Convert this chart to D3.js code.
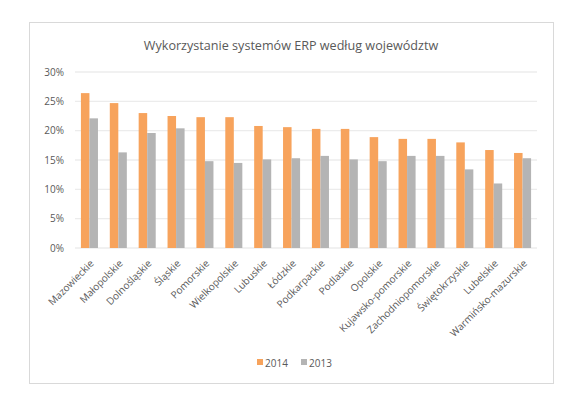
<!DOCTYPE html>
<html>
<head>
<meta charset="utf-8">
<script src="https://cdn.jsdelivr.net/npm/d3@7"></script>
<style>
  body { margin: 0; background: #fff; }
  text { font-family: "Open Sans", sans-serif; fill: #595959; }
</style>
</head>
<body>
<div id="chart"></div>
<script>
var regions = ["Mazowieckie", "Małopolskie", "Dolnośląskie", "Śląskie", "Pomorskie", "Wielkopolskie",
  "Lubuskie", "Łódzkie", "Podkarpackie", "Podlaskie", "Opolskie", "Kujawsko-pomorskie",
  "Zachodniopomorskie", "Świętokrzyskie", "Lubelskie", "Warmińsko-mazurskie"];
var v2014 = [26.4, 24.7, 23.0, 22.5, 22.3, 22.3, 20.8, 20.6, 20.3, 20.3, 18.9, 18.6, 18.6, 18.0, 16.7, 16.2];
var v2013 = [22.1, 16.3, 19.6, 20.4, 14.8, 14.5, 15.1, 15.3, 15.7, 15.1, 14.8, 15.7, 15.7, 13.4, 11.0, 15.3];
var yTicks = [0, 5, 10, 15, 20, 25, 30];
var seriesNames = ["2014", "2013"];
var colors = ["#f7a35c", "#b4b4b4"];

// set the dimensions and margins of the graph
var W = 581, H = 395;
var margin = {top: 72, right: 44, bottom: 147, left: 75},
    width = W - margin.left - margin.right,
    height = H - margin.top - margin.bottom;

var root = d3.select("#chart")
    .append("svg")
    .attr("width", W)
    .attr("height", H);

// chart frame
root.append("rect")
    .attr("x", 29.5).attr("y", 22.5)
    .attr("width", 524).attr("height", 361)
    .attr("fill", "#fff")
    .attr("stroke", "#d9d9d9");

root.append("text")
    .attr("x", 291).attr("y", 50)
    .attr("text-anchor", "middle")
    .style("font-size", "12.6px")
    .text("Wykorzystanie systemów ERP według województw");

var svg = root.append("g")
    .attr("transform", "translate(" + margin.left + "," + margin.top + ")");

var x = d3.scaleBand()
    .domain(regions)
    .range([0, width])
    .paddingInner(0.41)
    .paddingOuter(0.205);

var x1 = d3.scaleBand()
    .domain(seriesNames)
    .range([0, x.bandwidth()]);

var y = d3.scaleLinear()
    .domain([0, 30])
    .range([height, 0]);

// gridlines
svg.append("g")
    .selectAll("line")
    .data(yTicks)
    .enter()
    .append("line")
    .attr("x1", 0).attr("x2", width)
    .attr("y1", function(d) { return y(d); })
    .attr("y2", function(d) { return y(d); })
    .attr("stroke", "#ececec")
    .attr("stroke-width", 1.3);

// Y axis
var yAxis = svg.append("g")
    .attr("transform", "translate(-8,0)")
    .call(d3.axisLeft(y).tickValues(yTicks).tickSize(0).tickFormat(function(d) { return d + "%"; }));
yAxis.select(".domain").remove();
yAxis.selectAll("text").style("font-size", "10px").style("fill", "#595959");

// bars
var data = regions.map(function(r, i) { return {region: r, vals: [v2014[i], v2013[i]]}; });
var groups = svg.selectAll(".grp")
    .data(data)
    .enter()
    .append("g")
    .attr("transform", function(d) { return "translate(" + x(d.region) + ",0)"; });

groups.selectAll("rect")
    .data(function(d) { return d.vals.map(function(v, j) { return {key: seriesNames[j], v: v, c: colors[j]}; }); })
    .enter()
    .append("rect")
    .attr("x", function(d) { return x1(d.key); })
    .attr("width", x1.bandwidth())
    .attr("y", function(d) { return y(d.v); })
    .attr("height", function(d) { return height - y(d.v); })
    .attr("fill", function(d) { return d.c; });

// X axis labels
var xAxis = svg.append("g")
    .attr("transform", "translate(0," + height + ")")
    .call(d3.axisBottom(x).tickSize(0));
xAxis.select(".domain").remove();
xAxis.selectAll("text")
    .style("font-size", "10px")
    .style("fill", "#595959")
    .attr("text-anchor", "end")
    .attr("dy", "0")
    .attr("transform", "translate(3,14) rotate(-45)");

// legend
var legend = root.append("g").attr("transform", "translate(257,363)");
var lx = [0, 44];
seriesNames.forEach(function(s, i) {
  legend.append("rect")
      .attr("x", lx[i]).attr("y", -4)
      .attr("width", 6).attr("height", 6)
      .attr("fill", colors[i]);
  legend.append("text")
      .attr("x", lx[i] + 8).attr("y", 3.5)
      .style("font-size", "10px")
      .text(s);
});
</script>
</body>
</html>
